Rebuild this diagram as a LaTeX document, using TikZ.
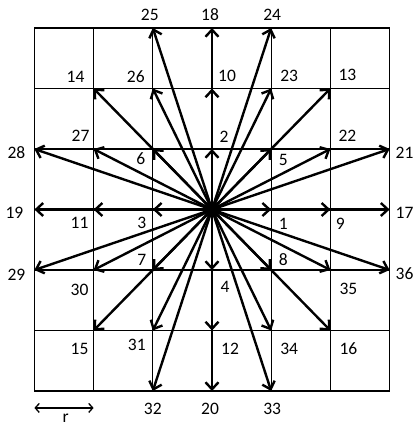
\documentclass[tikz,border=0pt]{standalone}
\usepackage{fontspec}
\setmainfont{Carlito}
\usetikzlibrary{arrows.meta}
\begin{document}
\begin{tikzpicture}[x=59.2pt,y=60.5pt,
  gridline/.style={line width=1.2pt},
  vec/.style={line width=2.4pt,-{Straight Barb[length=7pt,width=13pt]}},
  dim/.style={line width=1.3pt,{Straight Barb[length=4pt,width=9pt]}-{Straight Barb[length=4pt,width=9pt]}},
  lab/.style={font=\fontsize{17.5}{18}\selectfont, inner sep=0pt}]
\useasboundingbox (-212pt,-215.5pt) rectangle (202pt,209.5pt);
\draw[gridline,xstep=59.2pt,ystep=60.5pt] (-3,-3) grid (3,3);
\coordinate (O) at (0,0);
\foreach \n/\i/\j in {1/1/0,2/0/1,3/-1/0,4/0/-1,5/1/1,6/-1/1,7/-1/-1,8/1/-1,
  9/2/0,10/0/2,11/-2/0,12/0/-2,13/2/2,14/-2/2,15/-2/-2,16/2/-2,
  17/3/0,18/0/3,19/-3/0,20/0/-3,21/3/1,22/2/1,23/1/2,24/1/3,
  25/-1/3,26/-1/2,27/-2/1,28/-3/1,29/-3/-1,30/-2/-1,31/-1/-2,32/-1/-3,
  33/1/-3,34/1/-2,35/2/-1,36/3/-1}
  \coordinate (p\n) at (\i,\j);
\foreach \n in {1,...,36} \draw[vec] (O) -- (p\n);
\foreach \n/\dx/\dy in {1/12/-14.5,2/12/12,3/-11/-13.5,4/13/-17,5/12/-11,6/-12/-10,
  7/-11/10,8/12/10,9/10/-14.5,10/15/12.5,11/-14/-13.5,12/18/-18.5,
  13/17/13.5,14/-18/11.5,15/-14/-18.5,16/18/-18.5,17/15/-3.5,18/-2/13,
  19/-20/-3.5,20/-2/-18,21/15/-4,22/17/13,23/18/12.5,24/1/13,
  25/-3/13,26/-17/11.5,27/-13/13,28/-18/-4,29/-18/-5,30/-14/-20,
  31/-16/-14.5,32/0/-18,33/1/-18,34/18/-18.5,35/18/-19,36/15/-4}
  \node[lab] (l\n) at ([shift={(\dx pt,\dy pt)}]p\n) {\n};
\coordinate (ra) at (-3,-3.28);
\coordinate (rb) at (-2,-3.28);
\draw[dim] (ra) -- (rb);
\node[lab, anchor=north] (rl) at (-2.47,-3.37) {r};
\end{tikzpicture}
\end{document}
